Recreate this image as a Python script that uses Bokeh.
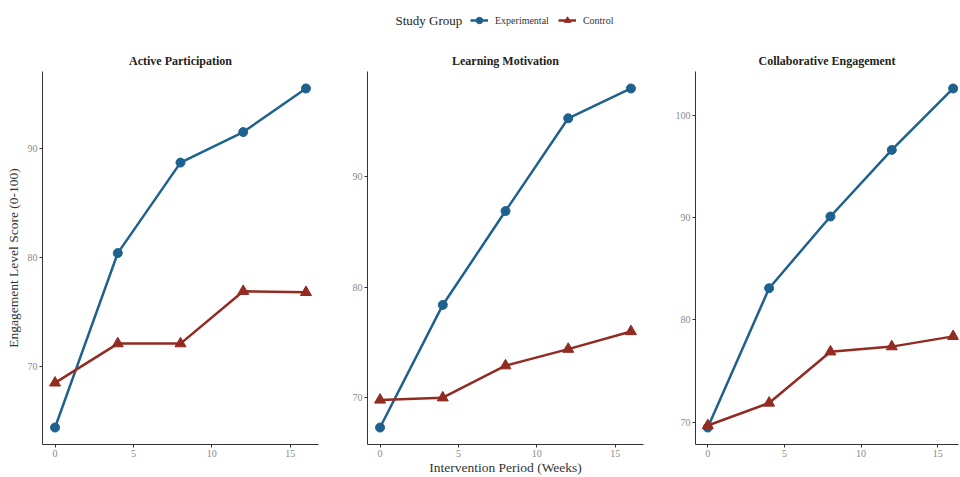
from bokeh.plotting import figure
from bokeh.layouts import column, row
from bokeh.models import Range1d, FixedTicker, Legend, LegendItem, Label
from bokeh.embed import file_html
from bokeh.resources import INLINE

# ---------------- data ----------------
weeks = [0, 4, 8, 12, 16]
panel_titles = ["Active Participation", "Learning Motivation", "Collaborative Engagement"]
group_names = ["Experimental", "Control"]
legend_title = "Study Group"
x_title = "Intervention Period (Weeks)"
y_title = "Engagement Level Score (0-100)"

exp_active = [64.4, 80.4, 88.7, 91.5, 95.5]
ctl_active = [68.5, 72.1, 72.1, 76.9, 76.8]
exp_motivation = [67.3, 78.4, 86.9, 95.3, 98.0]
ctl_motivation = [69.8, 70.0, 72.9, 74.4, 76.0]
exp_collab = [69.5, 83.1, 90.1, 96.6, 102.6]
ctl_collab = [69.7, 71.9, 76.9, 77.4, 78.4]

x_ticks = [0, 5, 10, 15]
y_ticks_active = [70, 80, 90]
y_ticks_motivation = [70, 80, 90]
y_ticks_collab = [70, 80, 90, 100]

# ---------------- style ----------------
BLUE = "#1F618D"
RED = "#922B21"
FONT = "Liberation Serif"
AXIS_COL = "#333333"
TICK_TXT = "#8a8a8a"

LEG_H = 48
PANEL_H = 429
TOP = 22
BOTTOM = 30
NAN = float("nan")


def make_panel(title, exp, ctl, yticks, width, bl, br, xend, ylabel=None, xlabel=None):
    allv = exp + ctl
    lo, hi = min(allv), max(allv)
    pad = 0.05 * (hi - lo)
    xpad = 0.05 * (max(weeks) - min(weeks))
    p = figure(width=width, height=PANEL_H, output_backend="svg", toolbar_location=None,
               x_range=Range1d(min(weeks) - xpad, xend), y_range=Range1d(lo - pad, hi + pad),
               min_border_left=bl, min_border_right=br, min_border_top=TOP,
               min_border_bottom=BOTTOM)
    p.outline_line_color = None
    p.xgrid.visible = False
    p.ygrid.visible = False
    p.background_fill_color = "white"
    p.border_fill_color = "white"

    p.title.text = title
    p.title.align = "center"
    p.title.text_font = FONT
    p.title.text_font_size = "12px"
    p.title.text_font_style = "bold"
    p.title.text_color = "#222222"
    p.title.standoff = 7

    p.xaxis.ticker = FixedTicker(ticks=x_ticks)
    p.yaxis.ticker = FixedTicker(ticks=yticks)
    for ax in (p.xaxis[0], p.yaxis[0]):
        ax.axis_line_color = AXIS_COL
        ax.axis_line_width = 1
        ax.major_tick_line_color = AXIS_COL
        ax.major_tick_out = 3
        ax.major_tick_in = 0
        ax.minor_tick_line_color = None
        ax.major_label_text_font = FONT
        ax.major_label_text_font_size = "10px"
        ax.major_label_text_color = TICK_TXT
        ax.major_label_standoff = 2
        ax.axis_label_text_font = FONT
        ax.axis_label_text_font_size = "13.5px"
        ax.axis_label_text_font_style = "normal"
        ax.axis_label_text_color = "#333333"
    p.yaxis[0].axis_label_standoff = 4
    p.xaxis[0].axis_label_standoff = 0
    if ylabel:
        p.yaxis[0].axis_label = ylabel
    if xlabel:
        p.xaxis[0].axis_label = xlabel

    p.line(weeks, exp, color=BLUE, line_width=2.5)
    p.scatter(weeks, exp, marker="circle", size=9, color=BLUE)
    p.line(weeks, ctl, color=RED, line_width=2.5)
    p.scatter(weeks, ctl, marker="triangle", size=11, color=RED)
    return p


p1 = make_panel(panel_titles[0], exp_active, ctl_active, y_ticks_active,
                330, 42, 12, 16.8, ylabel=y_title)
p2 = make_panel(panel_titles[1], exp_motivation, ctl_motivation, y_ticks_motivation,
                325, 37, 12, 16.8, xlabel=x_title)
p3 = make_panel(panel_titles[2], exp_collab, ctl_collab, y_ticks_collab,
                305, 40, 2, 16.35)

# ---------------- legend strip ----------------
LW = 960
lg = figure(width=LW, height=LEG_H, output_backend="svg", toolbar_location=None,
            x_range=Range1d(0, LW), y_range=Range1d(0, LEG_H),
            x_axis_type=None, y_axis_type=None, min_border=0)
lg.outline_line_color = None
lg.xgrid.visible = False
lg.ygrid.visible = False
r1 = lg.line([NAN], [NAN], color=BLUE, line_width=2.5)
r2 = lg.scatter([NAN], [NAN], marker="circle", size=9, color=BLUE)
r3 = lg.line([NAN], [NAN], color=RED, line_width=2.5)
r4 = lg.scatter([NAN], [NAN], marker="triangle", size=11, color=RED)
lg.add_layout(Label(x=395, y=LEG_H - 20, text=legend_title, text_font=FONT,
                    text_font_size="13px", text_color="#222222",
                    text_baseline="middle", text_align="left"))
leg = Legend(items=[LegendItem(label=group_names[0], renderers=[r1, r2]),
                    LegendItem(label=group_names[1], renderers=[r3, r4])],
             orientation="horizontal", location=(470, LEG_H - 28),
             border_line_color=None, background_fill_alpha=0,
             padding=0, margin=0, spacing=9, glyph_width=18, glyph_height=16,
             label_standoff=7, label_text_font=FONT, label_text_font_size="10px",
             label_text_color="#333333", label_height=16)
lg.add_layout(leg)

layout = column(lg, row(p1, p2, p3))
open("out.html", "w").write(file_html(layout, INLINE))
